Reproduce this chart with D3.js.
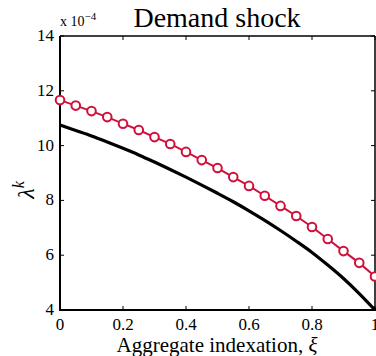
<!DOCTYPE html>
<html><head><meta charset="utf-8">
<script src="https://cdn.jsdelivr.net/npm/d3@7/dist/d3.min.js"></script>
<style>body{margin:0;background:#fff}svg{display:block}text{font-family:"Liberation Serif","DejaVu Serif",serif;fill:#000}</style>
</head><body><svg id="c" width="376" height="356"></svg>
<script>
const xi = [0,0.05,0.1,0.15,0.2,0.25,0.3,0.35,0.4,0.45,0.5,0.55,0.6,0.65,0.7,0.75,0.8,0.85,0.9,0.95,1.0];
const redSeries = [11.66,11.46,11.26,11.04,10.80,10.57,10.31,10.06,9.77,9.47,9.18,8.85,8.53,8.17,7.80,7.43,7.03,6.59,6.15,5.72,5.22];
const blackSeries = [10.75,10.55,10.35,10.13,9.90,9.66,9.40,9.13,8.85,8.56,8.26,7.95,7.62,7.27,6.90,6.51,6.10,5.64,5.15,4.60,4.0];
const xTicks = [0,0.2,0.4,0.6,0.8,1];
const yTicks = [4,6,8,10,12,14];

const svg = d3.select("#c");
const L=60,R=375,T=36,B=310;
const x = d3.scaleLinear().domain([0,1]).range([L,R]);
const y = d3.scaleLinear().domain([4,14]).range([B,T]);

const tick=4;
const g = svg.append("g");
xTicks.forEach(t=>{
  g.append("line").attr("x1",x(t)).attr("x2",x(t)).attr("y1",B).attr("y2",B-tick).attr("stroke","#000");
  g.append("line").attr("x1",x(t)).attr("x2",x(t)).attr("y1",T).attr("y2",T+tick).attr("stroke","#000");
  svg.append("text").attr("x",x(t)).attr("y",330).attr("text-anchor","middle").attr("font-size",17).text(String(t));
});
yTicks.forEach(t=>{
  g.append("line").attr("x1",L).attr("x2",L+tick).attr("y1",y(t)).attr("y2",y(t)).attr("stroke","#000");
  g.append("line").attr("x1",R).attr("x2",R-tick).attr("y1",y(t)).attr("y2",y(t)).attr("stroke","#000");
  svg.append("text").attr("x",54).attr("y",y(t)+5).attr("text-anchor","end").attr("font-size",17).text(String(t));
});
svg.append("line").attr("x1",L).attr("x2",R+1).attr("y1",B).attr("y2",B).attr("stroke","#000").attr("stroke-width",2);
svg.append("line").attr("x1",L).attr("x2",L).attr("y1",T).attr("y2",B+1).attr("stroke","#000").attr("stroke-width",2);
svg.append("line").attr("x1",L).attr("x2",R).attr("y1",T).attr("y2",T).attr("stroke","#000").attr("stroke-width",1.5);
svg.append("line").attr("x1",R).attr("x2",R).attr("y1",T).attr("y2",B).attr("stroke","#000").attr("stroke-width",1.5);

const line = d3.line().x((d,i)=>x(xi[i])).y(d=>y(d)).curve(d3.curveMonotoneX);
svg.append("path").datum(blackSeries).attr("d",line).attr("fill","none").attr("stroke","#000").attr("stroke-width",3.2);
const red="#D0103A";
svg.append("path").datum(redSeries).attr("d",d3.line().x((d,i)=>x(xi[i])).y(d=>y(d))).attr("fill","none").attr("stroke",red).attr("stroke-width",2);
svg.selectAll("circle.m").data(redSeries).enter().append("circle").attr("class","m")
  .attr("cx",(d,i)=>x(xi[i])).attr("cy",d=>y(d)).attr("r",4.3)
  .attr("fill","#fff").attr("stroke",red).attr("stroke-width",2);

svg.append("text").attr("x",217).attr("y",27).attr("text-anchor","middle").attr("font-size",28).text("Demand shock");
const ex = svg.append("text").attr("x",60).attr("y",26).attr("font-size",14);
ex.append("tspan").text("x 10");
ex.append("tspan").attr("dy",-6).attr("font-size",11).text("\u22124");
const xl = svg.append("text").attr("x",217).attr("y",352).attr("text-anchor","middle").attr("font-size",21);
xl.append("tspan").text("Aggregate indexation, ");
xl.append("tspan").attr("font-style","italic").text("\u03BE");
const yl = svg.append("text").attr("transform","translate(34,190) rotate(-90)").attr("text-anchor","middle").attr("font-size",24);
yl.append("tspan").attr("font-style","italic").text("\u03BB");
yl.append("tspan").attr("dy",-10).attr("font-size",16).attr("font-style","italic").text("k");
</script></body></html>
